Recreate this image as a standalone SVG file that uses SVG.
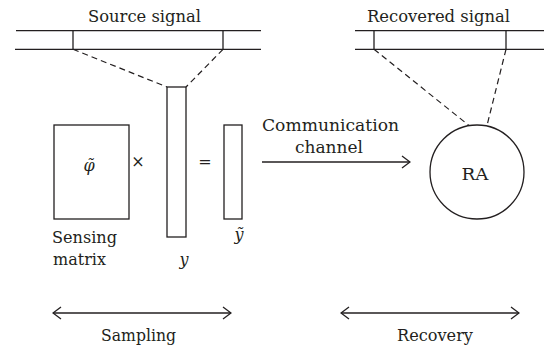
<svg xmlns="http://www.w3.org/2000/svg" width="547" height="353" viewBox="0 0 547 353">
<style>
.ln{stroke:#231f20;stroke-width:1.3;fill:none}
.dash{stroke:#231f20;stroke-width:1.2;fill:none;stroke-dasharray:6 4}
.box{stroke:#231f20;stroke-width:1.3;fill:#fff}
.t{font-family:'DejaVu Serif',serif;font-size:16px;fill:#231f20}
.c{text-anchor:middle}
.it{font-style:italic}
</style>
<defs>
<marker id="ah" viewBox="0 0 10 14" refX="9" refY="7" markerWidth="10" markerHeight="14" markerUnits="userSpaceOnUse" orient="auto-start-reverse">
<path d="M1,1 L9,7 L1,13" fill="none" stroke="#231f20" stroke-width="1.3"/>
</marker>
</defs>
<rect width="547" height="353" fill="#fff"/>

<g id="source-signal">
<line class="ln" x1="16" y1="30.7" x2="261" y2="30.7"/>
<line class="ln" x1="15" y1="49.3" x2="261" y2="49.3"/>
<line class="ln" x1="73" y1="30.7" x2="73" y2="49.3"/>
<line class="ln" x1="223" y1="30.7" x2="223" y2="49.3"/>
<text class="t c" x="144.5" y="22" textLength="113" lengthAdjust="spacingAndGlyphs">Source signal</text>
</g>

<g id="recovered-signal">
<line class="ln" x1="355" y1="30.7" x2="544" y2="30.7"/>
<line class="ln" x1="355" y1="49.3" x2="544" y2="49.3"/>
<line class="ln" x1="374" y1="30.7" x2="374" y2="49.3"/>
<line class="ln" x1="506" y1="30.7" x2="506" y2="49.3"/>
<text class="t c" x="438.5" y="22" textLength="143" lengthAdjust="spacingAndGlyphs">Recovered signal</text>
</g>

<g id="connectors">
<line class="dash" x1="73" y1="49.3" x2="167" y2="87"/>
<line class="dash" x1="223" y1="49.3" x2="186" y2="87"/>
<line class="dash" x1="374" y1="49.3" x2="469" y2="125.5"/>
<line class="dash" x1="506" y1="49.3" x2="487" y2="125.5"/>
<line class="ln" x1="262" y1="162" x2="410" y2="162" marker-end="url(#ah)"/>
<line class="ln" x1="53" y1="313" x2="231" y2="313" marker-start="url(#ah)" marker-end="url(#ah)"/>
<line class="ln" x1="341" y1="313" x2="519" y2="313" marker-start="url(#ah)" marker-end="url(#ah)"/>
</g>

<g id="sensing-matrix">
<rect class="box" x="54" y="125" width="75" height="94"/>
<text class="t c it" x="89" y="171">φ̃</text>
<text class="t" x="52" y="243" textLength="65" lengthAdjust="spacingAndGlyphs">Sensing</text>
<text class="t" x="53" y="265" textLength="53" lengthAdjust="spacingAndGlyphs">matrix</text>
</g>

<g id="times">
<text class="t c" x="138" y="167" font-size="18">×</text>
</g>

<g id="signal-vector">
<rect class="box" x="167" y="87" width="19" height="150"/>
<text class="t c it" x="184" y="265">y</text>
</g>

<g id="equals">
<text class="t c" x="205" y="167" font-size="18">=</text>
</g>

<g id="measurement-vector">
<rect class="box" x="224" y="125" width="18" height="94"/>
<text class="t c it" x="239" y="240">ỹ</text>
</g>

<g id="channel-label">
<text class="t c" x="330.5" y="131" textLength="137" lengthAdjust="spacingAndGlyphs">Communication</text>
<text class="t c" x="329" y="153" textLength="68" lengthAdjust="spacingAndGlyphs">channel</text>
</g>

<g id="ra">
<circle class="box" cx="477" cy="172" r="47"/>
<text class="t c" x="475" y="180" textLength="27" lengthAdjust="spacingAndGlyphs">RA</text>
</g>

<g id="sampling">
<text class="t c" x="138.5" y="341" textLength="75" lengthAdjust="spacingAndGlyphs">Sampling</text>
</g>

<g id="recovery">
<text class="t c" x="435" y="341" textLength="76" lengthAdjust="spacingAndGlyphs">Recovery</text>
</g>
</svg>
